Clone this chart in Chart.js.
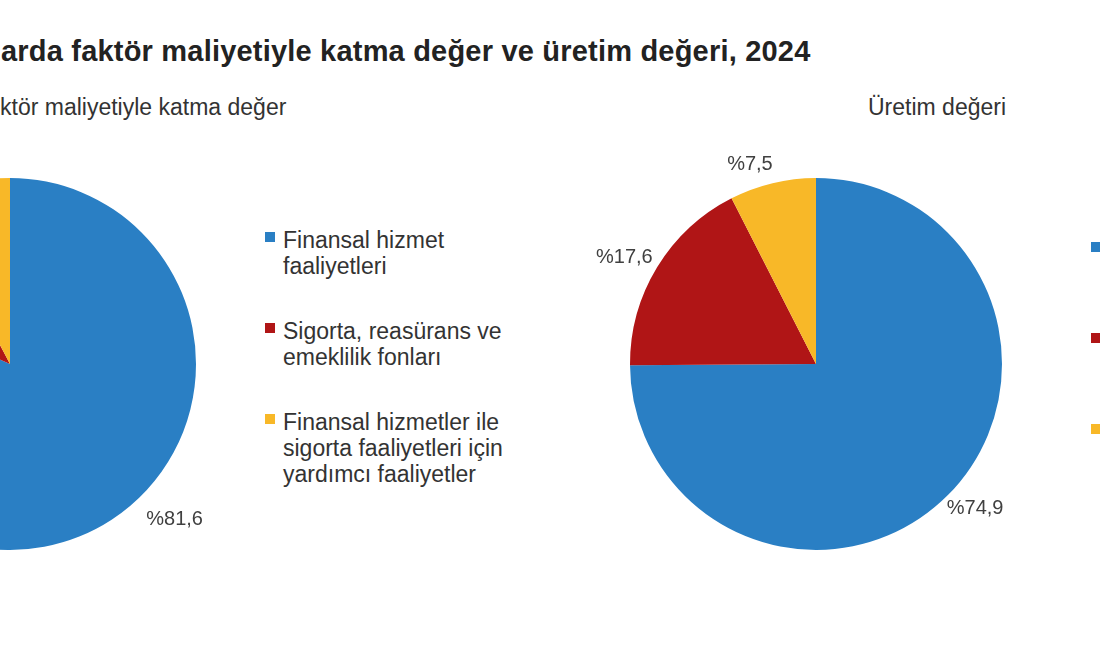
<!DOCTYPE html>
<html>
<head>
<meta charset="utf-8">
<script src="https://cdn.jsdelivr.net/npm/chart.js@4/dist/chart.umd.min.js"></script>
<style>
  html, body { margin: 0; padding: 0; background: #fff; }
  body { width: 1100px; height: 650px; overflow: hidden; position: relative;
         font-family: "Liberation Sans", Arial, sans-serif; color: #333; }
  .title { position: absolute; left: 1px; top: 35px; font-size: 29px; font-weight: bold;
           color: #222; white-space: nowrap; letter-spacing: 0.2px; }
  .sub { position: absolute; top: 94px; font-size: 23px; color: #333; white-space: nowrap; }
  .box { position: absolute; width: 500px; height: 500px; }
  .legend { position: absolute; width: 260px; font-size: 23px; line-height: 26px; color: #333; }
  .legend .item { position: relative; padding-left: 18px; margin-bottom: 39px; }
  .legend .sw { position: absolute; left: 0; top: 5px; width: 10px; height: 10px; }
</style>
</head>
<body>
<div class="title">arda faktör maliyetiyle katma değer ve üretim değeri, 2024</div>
<div class="sub" style="left:0px">ktör maliyetiyle katma değer</div>
<div class="sub" style="left:868px">Üretim değeri</div>

<div class="box" style="left:-240px; top:114px"><canvas id="leftPie" width="500" height="500"></canvas></div>
<div class="box" style="left:566px; top:114px"><canvas id="rightPie" width="500" height="500"></canvas></div>

<div class="legend" id="leftLegend" style="left:265px; top:227px"></div>
<div class="legend" id="rightLegend" style="left:1091px; top:237px"></div>

<script>
// categories
const categories = [
  ["Finansal hizmet", "faaliyetleri"],
  ["Sigorta, reasürans ve", "emeklilik fonları"],
  ["Finansal hizmetler ile", "sigorta faaliyetleri için", "yardımcı faaliyetler"]
];
// shares, %
const katmaDeger = [81.6, 10.7, 7.7];
const uretimDegeri = [74.9, 17.6, 7.5];

const colors = ["#2a7fc4", "#b01516", "#f8b828"];

// legend
const buildLegend = (el) => {
  categories.forEach((lines, i) => {
    const item = document.createElement("div");
    item.className = "item";
    item.innerHTML = '<span class="sw" style="background:' + colors[i] + '"></span>' + lines.join("<br>");
    el.appendChild(item);
  });
};
buildLegend(document.getElementById("leftLegend"));
buildLegend(document.getElementById("rightLegend"));

// outside-end labels, like excel
const pieLabels = {
  id: "pieLabels",
  afterDatasetsDraw(chart, args, opts) {
    const ctx = chart.ctx;
    const meta = chart.getDatasetMeta(0);
    const data = chart.data.datasets[0].data;
    const nudge = opts.nudge || {};
    ctx.save();
    ctx.font = '20px "Liberation Sans", Arial, sans-serif';
    ctx.fillStyle = "#404040";
    ctx.textAlign = "center";
    ctx.textBaseline = "middle";
    meta.data.forEach((arc, i) => {
      const p = arc.getProps(["x", "y", "startAngle", "endAngle", "outerRadius"], true);
      const mid = (p.startAngle + p.endAngle) / 2;
      const txt = "%" + data[i].toFixed(1).replace(".", ",");
      const w = ctx.measureText(txt).width;
      const dx = Math.cos(mid), dy = Math.sin(mid);
      const r = p.outerRadius + 10;
      let x = p.x + dx * r + dx * w / 2;
      let y = p.y + dy * r + dy * 9;
      if (nudge[i]) { x += nudge[i][0]; y += nudge[i][1]; }
      ctx.fillText(txt, x, y);
    });
    ctx.restore();
  }
};

const makePie = (id, values, nudge) => new Chart(document.getElementById(id), {
  type: "pie",
  data: {
    labels: categories.map(c => c.join(" ")),
    datasets: [{
      data: values,
      backgroundColor: colors,
      borderWidth: 0,
      hoverOffset: 0
    }]
  },
  options: {
    responsive: false,
    animation: false,
    layout: { padding: 64 },
    plugins: {
      legend: { display: false },
      tooltip: { enabled: false },
      pieLabels: { nudge: nudge }
    }
  },
  plugins: [pieLabels]
});

makePie("leftPie", katmaDeger, { 0: [42, -16] });
makePie("rightPie", uretimDegeri, { 2: [-15, 0] });
</script>
</body>
</html>
